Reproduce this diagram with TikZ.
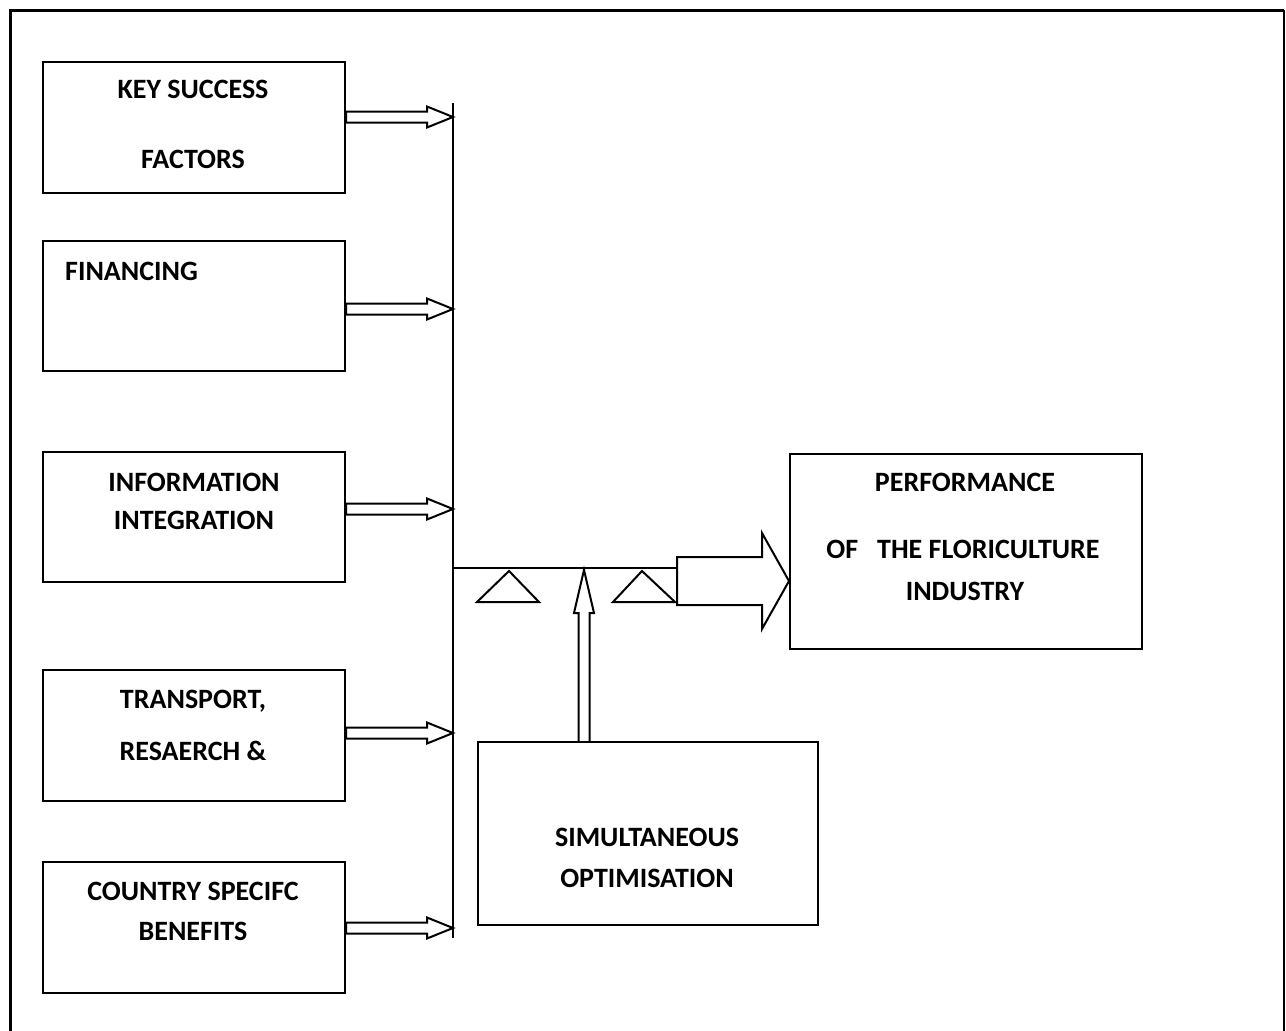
\documentclass[tikz,border=0pt]{standalone}
\usepackage{fontspec}
\setmainfont{Carlito}
\usetikzlibrary{calc}
\tikzset{
  ln/.style={line width=2pt, draw=black, line join=miter},
  boxn/.style={ln, rectangle, inner sep=0pt, anchor=north west},
  txt/.style={font=\fontsize{28}{32}\selectfont\bfseries, inner sep=0pt, text height=17.7pt, text depth=0pt}
}
\newcommand\harrow[2]{% #1 start, #2 tip
  \draw[ln] ($(#1)+(0,-5.5)$) -- ($(#2)+(-26,-5.5)$) -- ($(#2)+(-26,-10.5)$) -- (#2)
    -- ($(#2)+(-26,10.5)$) -- ($(#2)+(-26,5.5)$) -- ($(#1)+(0,5.5)$) -- cycle;}
\begin{document}
\begin{tikzpicture}[x=1pt,y=-1pt]
\useasboundingbox (0,0) rectangle (1286,1031);
\begin{scope}
\clip (0,0) rectangle (1286,1031);
% outer frame
\draw[line width=3pt] (10,1040) -- (10,10) -- (1284,10);
\draw[line width=1.6pt] (1284,10) -- (1284,1040);
\end{scope}
% left boxes
\node[boxn, minimum width=302pt, minimum height=131pt] (b1) at (42,61) {};
\node[boxn, minimum width=302pt, minimum height=130pt] (b2) at (42,240) {};
\node[boxn, minimum width=302pt, minimum height=130pt] (b3) at (42,451) {};
\node[boxn, minimum width=302pt, minimum height=131pt] (b4) at (42,669) {};
\node[boxn, minimum width=302pt, minimum height=131pt] (b5) at (42,861) {};
% right boxes
\node[boxn, minimum width=352pt, minimum height=195pt] (perf) at (789,453) {};
\node[boxn, minimum width=340pt, minimum height=183pt] (sim) at (477,741) {};
% texts
\node[txt] (t1a) at (193,90) {KEY SUCCESS};
\node[txt] (t1b) at (193,160) {FACTORS};
\node[txt, anchor=west] (t2) at (65,272) {FINANCING};
\node[txt] (t3a) at (194,483) {INFORMATION};
\node[txt] (t3b) at (194,521) {INTEGRATION};
\node[txt] (t4a) at (193,700) {TRANSPORT,};
\node[txt] (t4b) at (193,752) {RESAERCH \&};
\node[txt] (t5a) at (193,892) {COUNTRY SPECIFC};
\node[txt] (t5b) at (193,932) {BENEFITS};
\node[txt] (p1) at (965,483) {PERFORMANCE};
\node[txt] (p2) at (963,550) {OF\ \ \ THE FLORICULTURE};
\node[txt] (p3) at (965,592) {INDUSTRY};
\node[txt] (s1) at (647,838) {SIMULTANEOUS};
\node[txt] (s2) at (647,879) {OPTIMISATION};
% bus
\coordinate (bustop) at (453,103);
\coordinate (busbot) at (453,938);
\draw[ln] (bustop) -- (busbot);
% input arrows
\coordinate (a1) at (b1.east |- 0,117); \coordinate (e1) at (bustop |- a1);
\coordinate (a2) at (b2.east |- 0,309); \coordinate (e2) at (bustop |- a2);
\coordinate (a3) at (b3.east |- 0,509); \coordinate (e3) at (bustop |- a3);
\coordinate (a4) at (b4.east |- 0,733); \coordinate (e4) at (bustop |- a4);
\coordinate (a5) at (b5.east |- 0,928); \coordinate (e5) at (bustop |- a5);
\harrow{a1}{e1}
\harrow{a2}{e2}
\harrow{a3}{e3}
\harrow{a4}{e4}
\harrow{a5}{e5}
% horizontal line to big arrow
\coordinate (hl) at (bustop |- 0,568);
\coordinate (bigstart) at (677,581);
\coordinate (bigtip) at (perf.west |- bigstart);
\draw[ln] (hl) -- (bigstart |- hl);
% big arrow
\draw[ln] ($(bigstart)+(0,-24)$) -- ($(bigtip)+(-27,-24)$) -- ($(bigtip)+(-27,-48)$) -- (bigtip)
  -- ($(bigtip)+(-27,48)$) -- ($(bigtip)+(-27,24)$) -- ($(bigstart)+(0,24)$) -- cycle;
% triangles
\draw[ln] (477,602) -- (509,571) -- (539,602) -- cycle;
\draw[ln] (613,602) -- (642,571) -- (675,602) -- cycle;
% up arrow from sim box
\coordinate (ustart) at (sim.north -| 584,0);
\coordinate (utip) at (584,570);
\draw[ln] ($(ustart)+(-5.5,0)$) -- ($(utip)+(-5.5,43)$) -- ($(utip)+(-10,43)$) -- (utip)
  -- ($(utip)+(10,43)$) -- ($(utip)+(5.5,43)$) -- ($(ustart)+(5.5,0)$);
\end{tikzpicture}
\end{document}
